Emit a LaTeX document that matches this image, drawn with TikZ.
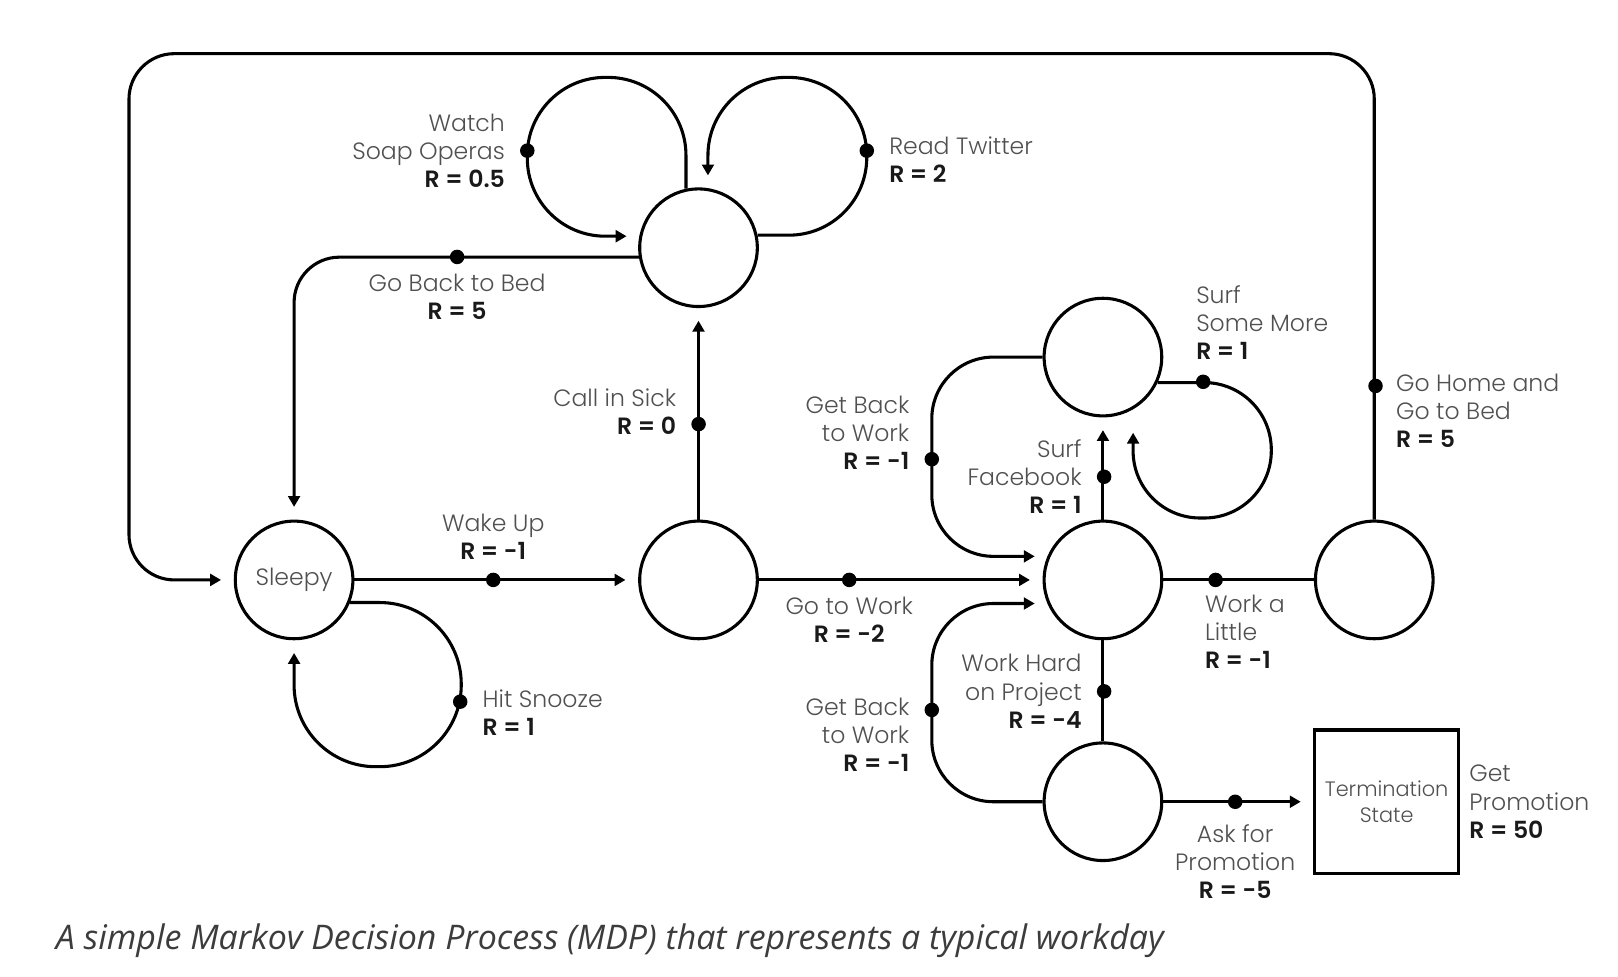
\documentclass[tikz,border=0pt]{standalone}
\usepackage{fontspec}
\setmainfont{Poppins Light}[BoldFont={Poppins SemiBold}]
\newfontfamily\capfont{Open Sans}
\usepackage{xcolor}
\usetikzlibrary{arrows.meta,automata,positioning}

\definecolor{lblgray}{RGB}{80,80,80}
\definecolor{rblack}{RGB}{25,25,25}
\definecolor{capgray}{RGB}{60,60,60}
\newcommand\lblsize{\fontsize{13}{15.5}\selectfont}
\newcommand\rval[1]{{\bfseries\color{rblack}#1}}

\begin{document}
\begin{tikzpicture}[x = 0.02cm, y = -0.02cm, node distance = 7.84cm,
  every state/.style = {draw, line width = 1.7pt, minimum size = 2.28cm, inner sep = 0pt, text = lblgray, font = \lblsize},
  dot/.style = {circle, fill = black, inner sep = 0pt, minimum size = 8pt},
  edge/.style = {line width = 1.7pt},
  arr/.style = {edge, -{Triangle[length = 6pt, width = 6.5pt]}, shorten > = 7pt},
  lbl/.style = {text = lblgray, font = \lblsize, inner sep = 1pt}]
  \useasboundingbox (0,0) rectangle (1568,946);

  \node[state] (sleepy) at (285,562) {Sleepy};
  \node[state, right of = sleepy] (awake) {};
  \node[state, right of = awake] (work) {};
  \node[state, right of = work, node distance = 5.26cm] (home) {};
  \node[state, above of = awake, node distance = 6.44cm] (tv) {};
  \node[state, above of = work, node distance = 4.32cm] (surf) {};
  \node[state, below of = work, node distance = 4.3cm] (project) {};
  \node[draw, line width = 1.7pt, minimum size = 2.78cm, inner sep = 0pt, align = center, text = lblgray,
    font = \fontsize{11.5}{14}\selectfont, right of = project, node distance = 5.5cm] (term) {Termination\\State};

  \coordinate (topLeft) at (125,52);
  \coordinate (soapTop) at (511,75);
  \coordinate (twTop) at (840,75);
  \coordinate (snoozeBot) at (447,743);
  \coordinate (moreBot) at (1232,502);
  \coordinate (backX) at (903,562);

  % connectors
  \draw[arr, rounded corners = 25pt] (home.north) |- (topLeft) |- (sleepy.west);
  \draw[arr, rounded corners = 43pt] (tv.102) |- (soapTop) |- (tv.169);
  \draw[arr, rounded corners = 43pt] (tv.12) -| (twTop) -| (tv.81);
  \draw[arr, rounded corners = 25pt] (tv.189) -| (sleepy.north);
  \draw[arr, rounded corners = 45pt] (sleepy.338) -| (snoozeBot) -| (sleepy.south);
  \draw[arr] (sleepy) -- (awake);
  \draw[arr] (awake) -- (tv);
  \draw[arr] (awake) -- (work);
  \draw[arr] (work) -- (surf);
  \draw[arr, rounded corners = 37pt, shorten > = 12.9pt] (surf.335) -| (moreBot) -| (surf.300);
  \draw[arr, rounded corners = 34pt] (surf.west) -| (backX |- work.157) -- (work.157);
  \draw[arr, rounded corners = 34pt] (project.west) -| (backX |- work.203) -- (work.203);
  \draw[edge] (work) -- (project);
  \draw[edge] (work) -- (home);
  \draw[arr] (project) -- (term);

  % dots
  \node[dot] (dSoap) at (511,146) {};
  \node[dot] (dTwitter) at (840,146) {};
  \node[dot] (dBed) at (443,249) {};
  \node[dot] (dSick) at (677,411) {};
  \node[dot] (dWake) at (478,562) {};
  \node[dot] (dGo) at (823,562) {};
  \node[dot] (dSnooze) at (446,680) {};
  \node[dot] (dBackUp) at (903,445) {};
  \node[dot] (dFb) at (1070,462) {};
  \node[dot] (dMore) at (1166,370) {};
  \node[dot] (dHome) at (1333,374) {};
  \node[dot] (dLittle) at (1178,562) {};
  \node[dot] (dHard) at (1070,670) {};
  \node[dot] (dBackLow) at (903,688) {};
  \node[dot] (dAsk) at (1197,777) {};

  % labels
  \node[lbl, left = 7pt of dSoap, align = right] (lSoap) {Watch\\Soap Operas\\\rval{R = 0.5}};
  \node[lbl, right = 7pt of dTwitter, anchor = north west, yshift = 9pt, align = left] (lTwitter) {Read Twitter\\\rval{R = 2}};
  \node[lbl, below = 4pt of dBed, align = center] (lBed) {Go Back to Bed\\\rval{R = 5}};
  \node[lbl, left = 7pt of dSick, anchor = south east, yshift = -7pt, align = right] (lSick) {Call in Sick\\\rval{R = 0}};
  \node[lbl, above = 6pt of dWake, align = center] (lWake) {Wake Up\\\rval{R = -1}};
  \node[lbl, below = 4pt of dGo, align = center] (lGo) {Go to Work\\\rval{R = -2}};
  \node[lbl, right = 7pt of dSnooze, anchor = north west, yshift = 8pt, align = left] (lSnooze) {Hit Snooze\\\rval{R = 1}};
  \node[lbl, left = 7pt of dBackUp, anchor = south east, yshift = -7pt, align = right] (lBackUp) {Get Back\\to Work\\\rval{R = -1}};
  \node[lbl, left = 7pt of dFb, align = right] (lFb) {Surf\\Facebook\\\rval{R = 1}};
  \node[lbl, above right = 8pt and -8pt of dMore, align = left] (lMore) {Surf\\Some More\\\rval{R = 1}};
  \node[lbl, right = 6pt of dHome, anchor = north west, yshift = 8pt, align = left] (lHome) {Go Home and\\Go to Bed\\\rval{R = 5}};
  \node[lbl, below right = 4pt and -10pt of dLittle, align = left] (lLittle) {Work a\\Little\\\rval{R = -1}};
  \node[lbl, left = 7pt of dHard, align = right] (lHard) {Work Hard\\on Project\\\rval{R = -4}};
  \node[lbl, left = 7pt of dBackLow, anchor = north east, yshift = 8pt, align = right] (lBackLow) {Get Back\\to Work\\\rval{R = -1}};
  \node[lbl, below = 7pt of dAsk, align = center] (lAsk) {Ask for\\Promotion\\\rval{R = -5}};
  \node[lbl, right = 4pt of term, align = left] (lPromo) {Get\\Promotion\\\rval{R = 50}};

  \node[anchor = west, text = capgray, font = \capfont\itshape\fontsize{18.7}{22}\selectfont] (caption) at (48,912)
    {A simple Markov Decision Process (MDP) that represents a typical workday};
\end{tikzpicture}
\end{document}
